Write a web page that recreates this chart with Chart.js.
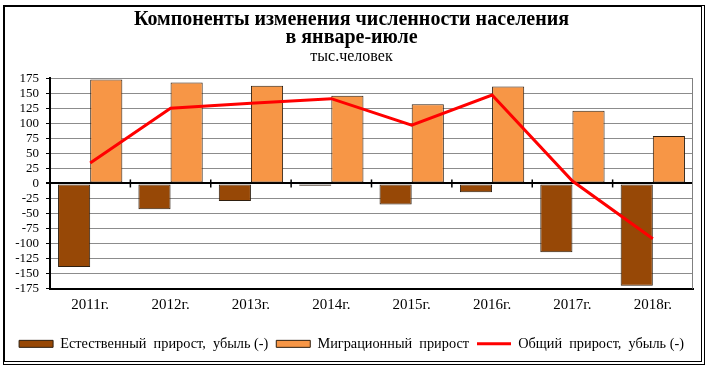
<!DOCTYPE html>
<html>
<head>
<meta charset="utf-8">
<script src="https://cdn.jsdelivr.net/npm/chart.js@4"></script>
<style>
  html, body { margin: 0; padding: 0; background: #fff; }
  #wrap { position: relative; width: 707px; height: 371px; overflow: hidden; }
  #c { position: absolute; left: 0; top: 0; }
  #frame {
    position: absolute; left: 3px; top: 5px; width: 696px; height: 354px;
    border-top: 2px solid #000; border-left: 2px solid #000;
    border-right: 4px double #000; border-bottom: 4px double #000;
    pointer-events: none;
  }
</style>
</head>
<body>
<div id="wrap">
  <canvas id="c" width="707" height="371"></canvas>
  <div id="frame"></div>
</div>
<script>
const categories = ['2011г.', '2012г.', '2013г.', '2014г.', '2015г.', '2016г.', '2017г.', '2018г.'];
const naturalGrowth = [-139, -43, -29, -4, -35, -14.5, -114.5, -170];
const migrationGrowth = [173, 168, 162.5, 146, 131.5, 161, 121, 79];
const totalGrowth = [34, 125, 133.5, 141, 97, 147, 4, -92];
const titleLines = ['Компоненты изменения численности населения', 'в январе-июле'];
const subtitleText = 'тыс.человек';
const seriesNames = ['Естественный  прирост,  убыль (-)', 'Миграционный  прирост', 'Общий  прирост,  убыль (-)'];

const SERIF = "'Liberation Serif', 'Times New Roman', serif";

const framePlugin = {
  id: 'framePlugin',
  afterDatasetsDraw(chart) {
    const ctx = chart.ctx;
    const a = chart.chartArea;
    const xs = chart.scales.x, ys = chart.scales.y;
    const y0 = ys.getPixelForValue(0);
    ctx.save();
    ctx.strokeStyle = '#808080';
    ctx.lineWidth = 1;
    ctx.beginPath();
    ctx.moveTo(a.right - 0.5, a.top);
    ctx.lineTo(a.right - 0.5, a.bottom);
    ctx.stroke();
    ctx.strokeStyle = '#000';
    ctx.lineWidth = 1.5;
    for (let i = 0; i < categories.length - 1; i++) {
      const xb = (xs.getPixelForTick(i) + xs.getPixelForTick(i + 1)) / 2;
      ctx.beginPath();
      ctx.moveTo(xb, y0 - 4);
      ctx.lineTo(xb, y0 + 4);
      ctx.stroke();
    }
    ctx.restore();
  }
};

new Chart(document.getElementById('c'), {
  type: 'bar',
  data: {
    labels: categories,
    datasets: [
      {
        type: 'bar', label: seriesNames[0], data: naturalGrowth,
        backgroundColor: '#974806', borderColor: '#2e1f10', borderWidth: 1,
        borderSkipped: false, pointStyle: 'rect', order: 1,
        categoryPercentage: 0.8, barPercentage: 1.0
      },
      {
        type: 'bar', label: seriesNames[1], data: migrationGrowth,
        backgroundColor: '#F79646', borderColor: '#2e1f10', borderWidth: 1,
        borderSkipped: false, pointStyle: 'rect', order: 1,
        categoryPercentage: 0.8, barPercentage: 1.0
      },
      {
        type: 'line', label: seriesNames[2], data: totalGrowth,
        borderColor: '#FF0000', backgroundColor: '#FF0000', borderWidth: 3,
        pointRadius: 0, pointStyle: 'line', tension: 0, order: 0
      }
    ]
  },
  options: {
    responsive: false,
    animation: false,
    devicePixelRatio: 1,
    layout: { padding: { top: 0, right: 14, bottom: 10, left: 10 } },
    plugins: {
      tooltip: { enabled: false },
      title: {
        display: true, text: titleLines, color: '#000',
        font: { family: SERIF, size: 20, weight: 'bold', lineHeight: 0.88 },
        padding: { top: 11, bottom: 0 }
      },
      subtitle: {
        display: true, text: subtitleText, color: '#000',
        font: { family: SERIF, size: 16, lineHeight: 1.0 },
        padding: { top: 3, bottom: 13 }
      },
      legend: {
        position: 'bottom',
        labels: {
          sort: (a, b) => a.datasetIndex - b.datasetIndex,
          color: '#000',
          font: { family: SERIF, size: 14.3 },
          usePointStyle: true, pointStyleWidth: 34, boxHeight: 7,
          padding: 8
        }
      }
    },
    scales: {
      x: {
        grid: { display: false, drawTicks: false },
        border: { display: true, color: '#000', width: 2 },
        ticks: { color: '#000', font: { family: SERIF, size: 15 }, padding: 7 },
        afterFit(scale) { scale.height = 40; }
      },
      y: {
        min: -175, max: 175,
        ticks: {
          stepSize: 25, autoSkip: false, color: '#000', padding: 7,
          font: { family: SERIF, size: 13 },
          callback: (v) => String(v)
        },
        grid: {
          color: (c) => (c.tick && c.tick.value === 0) ? '#000' : '#8c8c8c',
          lineWidth: (c) => (c.tick && c.tick.value === 0) ? 2 : 1,
          tickColor: '#000', tickLength: 4
        },
        border: { display: true, color: '#000', width: 2 },
        afterFit(scale) { scale.width = 40; }
      }
    }
  },
  plugins: [framePlugin]
});
</script>
</body>
</html>
